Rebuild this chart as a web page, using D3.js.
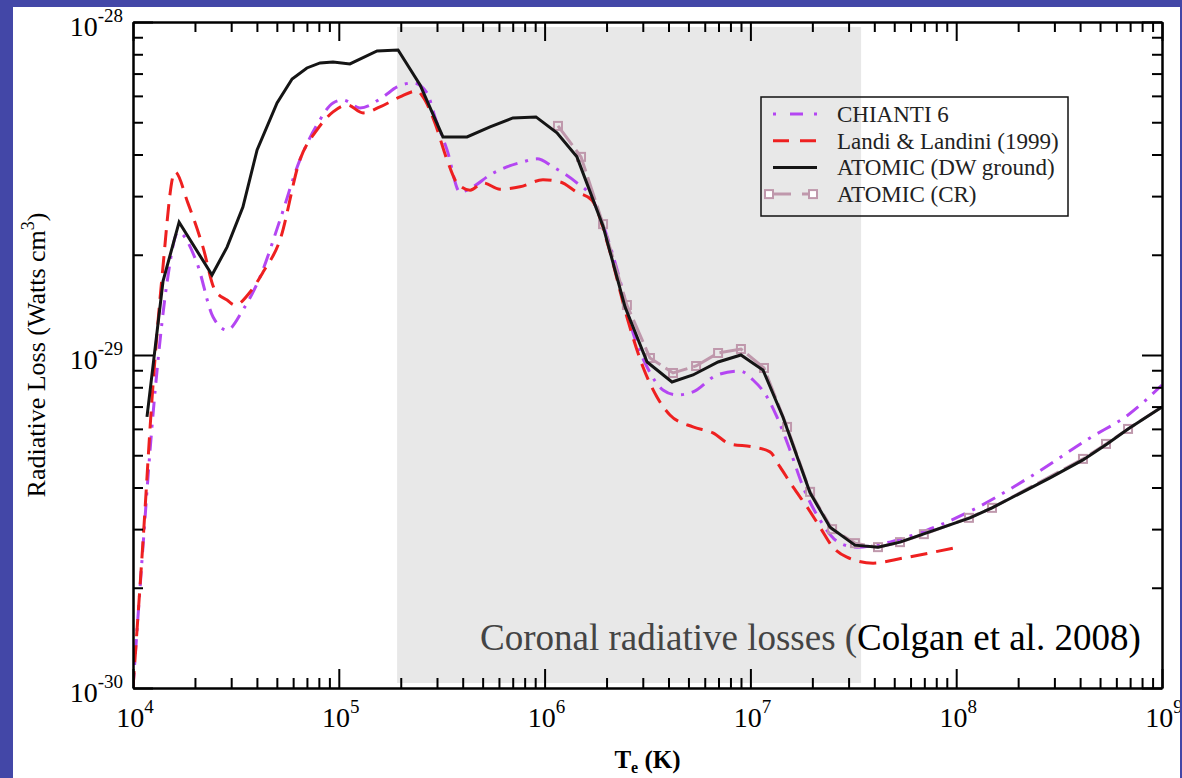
<!DOCTYPE html>
<html>
<head>
<meta charset="utf-8">
<script src="https://cdn.jsdelivr.net/npm/d3@7"></script>
<style>
body { margin: 0; background: #4347a7; }
svg { display: block; }
text { font-family: "Liberation Serif", "DejaVu Serif", serif; }
</style>
</head>
<body>
<script>
// values, stored as log10(T_e [K]) and log10(loss [W cm^3])
var chiantiLogT = [4.000,4.049,4.083,4.117,4.165,4.219,4.311,4.389,4.457,4.534,4.617,4.714,4.811,4.894,4.972,5.020,5.103,5.215,5.283,5.361,5.429,5.467,5.526,5.589,5.652,5.735,5.895,5.963,6.041,6.157,6.221,6.293,6.366,6.430,6.498,6.575,6.643,6.721,6.838,6.949,7.013,7.081,7.129,7.192,7.256,7.338,7.435,7.518,7.727,7.858,8.052,8.359,8.650,8.835,9.000];
var chiantiLogL = [-30.000,-29.571,-29.285,-29.045,-28.784,-28.631,-28.724,-28.886,-28.925,-28.865,-28.766,-28.595,-28.414,-28.309,-28.243,-28.234,-28.258,-28.225,-28.195,-28.183,-28.213,-28.285,-28.384,-28.511,-28.495,-28.459,-28.420,-28.411,-28.435,-28.483,-28.520,-28.625,-28.775,-28.934,-29.036,-29.105,-29.120,-29.111,-29.060,-29.048,-29.075,-29.126,-29.186,-29.285,-29.396,-29.495,-29.565,-29.577,-29.553,-29.526,-29.474,-29.366,-29.249,-29.180,-29.090];

var landiLogT = [4.000,4.049,4.092,4.141,4.204,4.267,4.340,4.398,4.457,4.496,4.569,4.632,4.714,4.811,4.894,4.972,5.040,5.118,5.200,5.297,5.380,5.409,5.467,5.526,5.574,5.638,5.701,5.783,5.880,5.992,6.075,6.157,6.230,6.308,6.400,6.478,6.546,6.609,6.721,6.818,6.901,7.013,7.095,7.144,7.207,7.275,7.338,7.401,7.469,7.596,7.741,7.984];
var landiLogL = [-30.000,-29.556,-29.135,-28.766,-28.450,-28.544,-28.676,-28.805,-28.835,-28.850,-28.811,-28.751,-28.655,-28.414,-28.324,-28.270,-28.249,-28.273,-28.255,-28.225,-28.207,-28.225,-28.303,-28.414,-28.483,-28.505,-28.483,-28.502,-28.495,-28.474,-28.480,-28.511,-28.535,-28.670,-28.886,-29.036,-29.126,-29.180,-29.216,-29.234,-29.267,-29.276,-29.291,-29.336,-29.396,-29.456,-29.517,-29.577,-29.607,-29.625,-29.610,-29.580];

var dwLogT = [4.068,4.146,4.224,4.384,4.457,4.534,4.603,4.700,4.773,4.845,4.909,4.972,5.054,5.186,5.288,5.395,5.506,5.623,5.735,5.846,5.958,6.060,6.157,6.284,6.391,6.498,6.619,6.721,6.843,6.954,7.061,7.158,7.290,7.387,7.508,7.620,7.727,7.839,8.067,8.174,8.456,8.616,8.733,8.835,9.000];
var dwLogL = [-29.186,-28.778,-28.601,-28.760,-28.676,-28.556,-28.384,-28.243,-28.171,-28.138,-28.123,-28.120,-28.126,-28.087,-28.084,-28.189,-28.345,-28.345,-28.315,-28.288,-28.285,-28.333,-28.405,-28.613,-28.856,-29.021,-29.081,-29.060,-29.021,-29.000,-29.045,-29.186,-29.414,-29.517,-29.571,-29.577,-29.562,-29.538,-29.489,-29.459,-29.369,-29.315,-29.267,-29.222,-29.156];

var crLogT = [6.065,6.177,6.284,6.400,6.512,6.624,6.736,6.843,6.954,7.066,7.178,7.290,7.397,7.508,7.620,7.727,7.843,8.062,8.174,8.616,8.728,8.835,9.000];
var crLogL = [-28.312,-28.405,-28.607,-28.850,-29.009,-29.054,-29.033,-28.994,-28.982,-29.039,-29.216,-29.411,-29.523,-29.565,-29.577,-29.562,-29.538,-29.489,-29.459,-29.312,-29.267,-29.222,-29.156];

var legendLabels = ["CHIANTI 6", "Landi & Landini (1999)", "ATOMIC (DW ground)", "ATOMIC (CR)"];
var xMajorExp = [4, 5, 6, 7, 8, 9];
var yMajorExp = [-30, -29, -28];
var shadeRange = [1.92e5, 3.45e7];   // coronal band in K
var noteGray = "Coronal radiative losses (";
var noteBlack = "Colgan et al. 2008)";

function toPoints(lt, ll) {
	return lt.map(function(v, i){ return {t: Math.pow(10, v), l: Math.pow(10, ll[i])}; });
}

window.onload = function(){
	var w = 1182, h = 778;
	var pL = 133, pR = 1162, pT = 22, pB = 688;

	var svg = d3.select("body").append("svg")
		.attr("width", w)
		.attr("height", h);

	// white page inside the blue frame
	svg.append("rect")
		.attr("x", 13).attr("y", 7)
		.attr("width", 1167).attr("height", h - 7)
		.style("fill", "#fff");

	var x = d3.scaleLog().domain([1e4, 1e9]).range([pL, pR]);
	var y = d3.scaleLog().domain([1e-30, 1e-28]).range([pB, pT]);

	// shaded coronal band
	svg.append("rect")
		.attr("x", x(shadeRange[0]))
		.attr("y", pT + 5)
		.attr("width", x(shadeRange[1]) - x(shadeRange[0]))
		.attr("height", pB - pT - 10)
		.style("fill", "#e8e8e8");

	svg.append("clipPath").attr("id", "plotclip")
		.append("rect")
		.attr("x", pL).attr("y", pT)
		.attr("width", pR - pL).attr("height", pB - pT);

	var plot = svg.append("g").attr("clip-path", "url(#plotclip)");

	var series = [
		{name: legendLabels[0], pts: toPoints(chiantiLogT, chiantiLogL), color: "#b446f2", dash: "15,8,3,8", curve: d3.curveMonotoneX},
		{name: legendLabels[1], pts: toPoints(landiLogT, landiLogL), color: "#ee2020", dash: "17,9", curve: d3.curveMonotoneX},
		{name: legendLabels[2], pts: toPoints(dwLogT, dwLogL), color: "#151515", dash: null, curve: d3.curveLinear},
		{name: legendLabels[3], pts: toPoints(crLogT, crLogL), color: "#bf98ac", dash: "24,6", curve: d3.curveLinear, marker: true}
	];

	// CR goes under the DW line, as in the original
	[0, 1, 3, 2].forEach(function(k){
		var s = series[k];
		var line = d3.line()
			.x(function(d){ return x(d.t); })
			.y(function(d){ return y(d.l); })
			.curve(s.curve);
		plot.append("path")
			.datum(s.pts)
			.attr("d", line)
			.style("fill", "none")
			.style("stroke", s.color)
			.style("stroke-width", 3)
			.style("stroke-dasharray", s.dash);
		if (s.marker) {
			plot.selectAll(".sq" + k)
				.data(s.pts.filter(function(d){ return d.t < 1e9; }))
				.enter()
				.append("rect")
				.attr("class", "sq" + k)
				.attr("x", function(d){ return x(d.t) - 4; })
				.attr("y", function(d){ return y(d.l) - 4; })
				.attr("width", 8).attr("height", 8)
				.style("fill", "none")
				.style("stroke", s.color)
				.style("stroke-width", 2);
		}
	});

	// axes, ticks pointing inward
	var xMajor = xMajorExp.map(function(e){ return Math.pow(10, e); });
	var xMinor = [];
	xMajorExp.slice(0, -1).forEach(function(e){
		for (var m = 2; m < 10; m++) xMinor.push(m * Math.pow(10, e));
	});
	var yMajor = yMajorExp.map(function(e){ return Math.pow(10, e); });
	var yMinor = [];
	yMajorExp.slice(0, -1).forEach(function(e){
		for (var m = 2; m < 10; m++) yMinor.push(m * Math.pow(10, e));
	});

	function addAxis(gen, tx, ty, vals, size) {
		var g = svg.append("g")
			.attr("transform", "translate(" + tx + "," + ty + ")")
			.call(gen.tickValues(vals).tickSize(size).tickSizeOuter(0).tickFormat(""));
		g.selectAll("path, line").style("stroke", "#000").style("stroke-width", 2);
		return g;
	}
	addAxis(d3.axisBottom(x), 0, pB, xMajor, -19);
	addAxis(d3.axisBottom(x), 0, pB, xMinor, -10);
	addAxis(d3.axisTop(x), 0, pT, xMajor, -19);
	addAxis(d3.axisTop(x), 0, pT, xMinor, -10);
	addAxis(d3.axisLeft(y), pL, 0, yMajor, -20);
	addAxis(d3.axisLeft(y), pL, 0, yMinor, -10);
	addAxis(d3.axisRight(y), pR, 0, yMajor, -20);
	addAxis(d3.axisRight(y), pR, 0, yMinor, -10);

	// tick labels "10^n"
	var xl = svg.selectAll(".xlab")
		.data(xMajorExp)
		.enter()
		.append("text")
		.attr("class", "xlab")
		.attr("text-anchor", "middle")
		.attr("x", function(d){ return x(Math.pow(10, d)) + 2; })
		.attr("y", pB + 39)
		.style("font-size", "28px");
	xl.append("tspan").text("10");
	xl.append("tspan").attr("dy", -14).style("font-size", "19px").text(function(d){ return d; });

	var yl = svg.selectAll(".ylab")
		.data(yMajorExp)
		.enter()
		.append("text")
		.attr("class", "ylab")
		.attr("text-anchor", "end")
		.attr("x", pL - 10)
		.attr("y", function(d){ return y(Math.pow(10, d)) + 14; })
		.style("font-size", "28px");
	yl.append("tspan").text("10");
	yl.append("tspan").attr("dy", -14).style("font-size", "19px").text(function(d){ return d; });

	// axis titles
	var xt = svg.append("text")
		.attr("text-anchor", "middle")
		.attr("x", (pL + pR) / 2)
		.attr("y", 768)
		.style("font-size", "25px")
		.style("font-weight", "bold");
	xt.append("tspan").text("T");
	xt.append("tspan").attr("dy", 5).style("font-size", "16px").text("e");
	xt.append("tspan").attr("dy", -5).text(" (K)");

	var yt = svg.append("text")
		.attr("text-anchor", "middle")
		.attr("transform", "translate(45," + ((pT + pB) / 2) + ") rotate(-90)")
		.style("font-size", "26px");
	yt.append("tspan").text("Radiative Loss (Watts cm");
	yt.append("tspan").attr("dy", -11).style("font-size", "18px").text("3");
	yt.append("tspan").attr("dy", 11).text(")");

	// annotation
	var note = svg.append("text")
		.attr("x", 480)
		.attr("y", 650)
		.style("font-size", "37px");
	note.append("tspan").style("fill", "#444").text(noteGray);
	note.append("tspan").style("fill", "#000").text(noteBlack);

	// legend
	var lg = svg.append("g").attr("transform", "translate(761,97)");
	lg.append("rect")
		.attr("width", 307).attr("height", 119)
		.style("fill", "none")
		.style("stroke", "#111")
		.style("stroke-width", 1.5);
	var items = lg.selectAll(".item")
		.data(series)
		.enter()
		.append("g")
		.attr("class", "item")
		.attr("transform", function(d, i){ return "translate(0," + (25 + i * 26.7) + ")"; });
	items.append("line")
		.attr("x1", 12).attr("x2", 56)
		.attr("y1", -8).attr("y2", -8)
		.style("stroke", function(d){ return d.color; })
		.style("stroke-width", 3)
		.style("stroke-dasharray", function(d, i){ return ["3,14,13,11", "16,11", null, "18,11"][i]; });
	items.filter(function(d){ return d.marker; })
		.selectAll("rect")
		.data([8, 52])
		.enter()
		.append("rect")
		.attr("x", function(d){ return d - 4; })
		.attr("y", -12)
		.attr("width", 8).attr("height", 8)
		.style("fill", "#fff")
		.style("stroke", "#bf98ac")
		.style("stroke-width", 2);
	items.append("text")
		.attr("x", 76)
		.attr("y", 0)
		.style("font-size", "23px")
		.style("fill", "#222")
		.text(function(d){ return d.name; });

	// thin frame strip on the right
	svg.append("rect")
		.attr("x", 1180).attr("y", 0)
		.attr("width", 2).attr("height", h)
		.style("fill", "#4347a7");
};
</script>
</body>
</html>
